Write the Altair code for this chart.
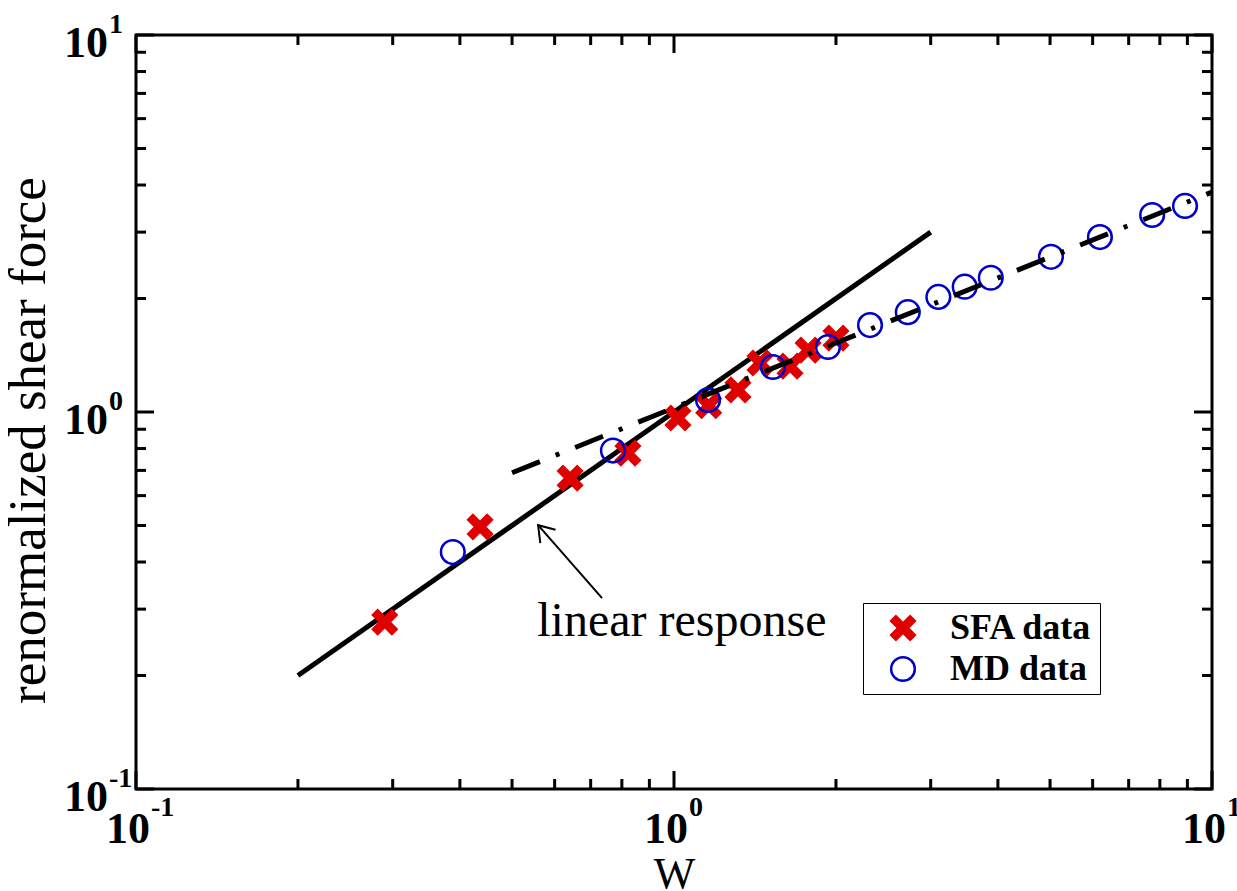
import altair as alt
import pandas as pd

# ---------------- data ----------------
sfa_w = [0.29, 0.436, 0.641, 0.821, 1.017, 1.16, 1.315, 1.445, 1.643, 1.775, 2.0]
sfa_f = [0.277, 0.496, 0.668, 0.778, 0.964, 1.04, 1.144, 1.349, 1.324, 1.46, 1.571]

md_w = [0.388, 0.77, 1.157, 1.527, 1.933, 2.314, 2.72, 3.10, 3.47, 3.88, 5.02, 6.19, 7.74, 8.91]
md_f = [0.425, 0.79, 1.076, 1.316, 1.487, 1.70, 1.84, 2.02, 2.15, 2.27, 2.58, 2.91, 3.33, 3.52]

lin_w = [0.2, 3.0]          # linear response line
lin_f = [0.2, 3.0]
fit_w = [0.5, 10.0]         # dash-dot power-law line
fit_f = [0.69, 3.83]

arrow_w = [0.735, 0.559]    # tail -> tip
arrow_f = [0.321, 0.501]
note_w = [0.557]
note_f = [0.2546]
note_text = ["linear response"]

series_names = ["SFA data", "MD data"]
major_ticks = [0.1, 1, 10]
minor_ticks = [0.2, 0.3, 0.4, 0.5, 0.6, 0.7, 0.8, 0.9, 2, 3, 4, 5, 6, 7, 8, 9]
tick_exps = ["-1", "0", "1"]

# ---------------- styling ----------------
W, H = 1076, 754
FONT = "Liberation Serif"
RED = "#e00000"
BLUE = "#0000cc"
XPATH = ("M 0 -0.4 L 0.6 -1 L 1 -0.6 L 0.4 0 L 1 0.6 L 0.6 1 L 0 0.4 "
         "L -0.6 1 L -1 0.6 L -0.4 0 L -1 -0.6 L -0.6 -1 Z")
HEAD = "M -0.56 0.83 L 0 0 L 0.56 0.83"

xs = alt.Scale(type="log", domain=[0.1, 10], nice=False)
ys = alt.Scale(type="log", domain=[0.1, 10], nice=False)
ax_x = alt.Axis(title="W", labels=False, ticks=False, domain=False, grid=False,
                titleFont=FONT, titleFontSize=44, titleFontWeight="normal",
                titleColor="black", titlePadding=63)
ax_y = alt.Axis(title="renormalized shear force", labels=False, ticks=False,
                domain=False, grid=False, titleFont=FONT, titleFontSize=53,
                titleFontWeight="normal", titleColor="black", titlePadding=81,
                titleY=405)


def X(f="x"):
    return alt.X(f"{f}:Q", scale=xs, axis=ax_x)


def Y(f="y"):
    return alt.Y(f"{f}:Q", scale=ys, axis=ax_y)


pts = pd.DataFrame({
    "x": sfa_w + md_w,
    "y": sfa_f + md_f,
    "series": [series_names[0]] * len(sfa_w) + [series_names[1]] * len(md_w),
})
lin_df = pd.DataFrame({"x": lin_w, "y": lin_f})
fit_df = pd.DataFrame({"x": fit_w, "y": fit_f})
arrow_df = pd.DataFrame({"x": arrow_w, "y": arrow_f})
head_df = pd.DataFrame({"x": arrow_w[1:], "y": arrow_f[1:]})
note_df = pd.DataFrame({"x": note_w, "y": note_f, "t": note_text})
maj_df = pd.DataFrame({"x": major_ticks, "y": major_ticks, "e": tick_exps})
min_df = pd.DataFrame({"x": minor_ticks, "y": minor_ticks})

leg = alt.Legend(title=None, orient="none", legendX=727, legendY=568,
                 strokeColor="black", fillColor="white", padding=7,
                 labelFont=FONT, labelFontSize=36, labelFontWeight="bold",
                 labelColor="black", symbolSize=560, symbolStrokeWidth=2.5,
                 rowPadding=5, labelOffset=29, symbolOffset=15)

lin = alt.Chart(lin_df).mark_line(color="black", strokeWidth=5).encode(x=X(), y=Y())

points = alt.Chart(pts).mark_point(strokeWidth=2.5, opacity=1, size=560).encode(
    x=X(), y=Y(),
    shape=alt.Shape("series:N", scale=alt.Scale(domain=series_names, range=[XPATH, "circle"]), legend=leg),
    fill=alt.Fill("series:N", scale=alt.Scale(domain=series_names, range=[RED, "transparent"]), legend=leg),
    stroke=alt.Stroke("series:N", scale=alt.Scale(domain=series_names, range=[RED, BLUE]), legend=leg),
)

fit = alt.Chart(fit_df).mark_line(color="black", strokeWidth=5, strokeDash=[30, 17, 4, 17]).encode(x=X(), y=Y())

arrow = alt.Chart(arrow_df).mark_line(color="black", strokeWidth=2).encode(x=X(), y=Y())
head = alt.Chart(head_df).mark_point(shape=HEAD, size=1296, angle=319, filled=False,
                                      color="black", strokeWidth=2, opacity=1).encode(x=X(), y=Y())
note = alt.Chart(note_df).mark_text(align="left", baseline="alphabetic", font=FONT,
                                    fontSize=48, color="black").encode(x=X(), y=Y(), text="t:N")

layers = [lin, points, fit, arrow, head, note]

# inward ticks on all four sides
for df, L in [(maj_df, 18), (min_df, 10)]:
    layers.append(alt.Chart(df).mark_rule(color="black", strokeWidth=3).encode(
        x=X(), y=alt.value(H), y2=alt.value(H - L)))
    layers.append(alt.Chart(df).mark_rule(color="black", strokeWidth=3).encode(
        x=X(), y=alt.value(0), y2=alt.value(L)))
    layers.append(alt.Chart(df).mark_rule(color="black", strokeWidth=3).encode(
        y=Y(), x=alt.value(0), x2=alt.value(L)))
    layers.append(alt.Chart(df).mark_rule(color="black", strokeWidth=3).encode(
        y=Y(), x=alt.value(W), x2=alt.value(W - L)))

# tick labels 10^n
layers.append(alt.Chart(maj_df).mark_text(text="10", align="right", baseline="middle", dx=14,
                                          font=FONT, fontSize=44, fontWeight="bold", color="black")
              .encode(x=X(), y=alt.value(H + 41)))
layers.append(alt.Chart(maj_df).mark_text(align="left", baseline="middle", dx=15,
                                          font=FONT, fontSize=28, fontWeight="bold", color="black")
              .encode(x=X(), y=alt.value(H + 19), text="e:N"))
layers.append(alt.Chart(maj_df).mark_text(text="10", align="right", baseline="middle", dy=9,
                                          font=FONT, fontSize=44, fontWeight="bold", color="black")
              .encode(y=Y(), x=alt.value(-28)))
layers.append(alt.Chart(maj_df).mark_text(align="left", baseline="middle", dy=-10,
                                          font=FONT, fontSize=28, fontWeight="bold", color="black")
              .encode(y=Y(), x=alt.value(-27), text="e:N"))

chart = alt.layer(*layers).properties(
    width=W, height=H,
    autosize=alt.AutoSizeParams(type="none"),
    padding={"left": 136, "top": 35, "right": 25, "bottom": 102},
    background="white",
).configure_view(stroke="black", strokeWidth=3)

chart.save("out.html", embed_options={"renderer": "svg", "actions": False})
